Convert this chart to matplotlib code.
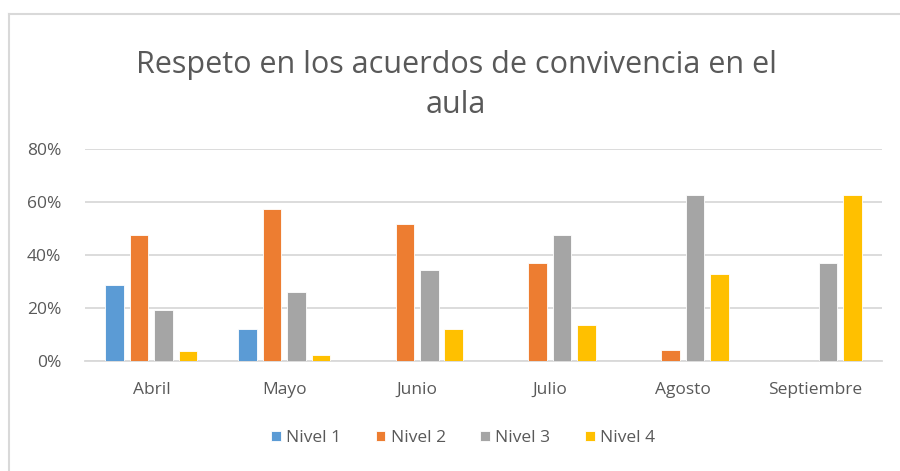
import matplotlib
matplotlib.use("Agg")
import matplotlib.pyplot as plt
from matplotlib.lines import Line2D
import numpy as np

plt.rcParams['font.family'] = ['Open Sans', 'DejaVu Sans']

categories = ["Abril", "Mayo", "Junio", "Julio", "Agosto", "Septiembre"]
series_names = ["Nivel 1", "Nivel 2", "Nivel 3", "Nivel 4"]
nivel1 = [28.5, 12.0, 0, 0, 0, 0]
nivel2 = [47.6, 57.5, 51.8, 37.0, 4.3, 0]
nivel3 = [19.2, 26.2, 34.2, 47.6, 62.5, 37.0]
nivel4 = [3.7, 2.1, 12.1, 13.5, 32.8, 62.5]
colors = ["#5B9BD5", "#ED7D31", "#A5A5A5", "#FFC000"]
yticks = [0, 20, 40, 60, 80]
ytick_labels = ["0%", "20%", "40%", "60%", "80%"]
title = "Respeto en los acuerdos de convivencia en el\naula"

fig = plt.figure(figsize=(9, 4.71), dpi=100)
ax = fig.add_axes([85/900, 1-361/471, (882-85)/900, (361-149)/471])

x = np.arange(len(categories))
slot = 0.184
bw = 0.14
for i, (vals, name, c) in enumerate(zip([nivel1, nivel2, nivel3, nivel4], series_names, colors)):
    ax.bar(x + (i - 1.5) * slot, vals, width=bw, color=c, label=name,
           edgecolor="white", linewidth=0.6, zorder=3)

ax.set_xlim(-0.5, len(categories) - 0.5)
ax.set_ylim(0, 80)
ax.set_yticks(yticks)
ax.set_yticklabels(ytick_labels)
ax.set_xticks(x)
ax.set_xticklabels(categories)
ax.grid(axis="y", color="#D9D9D9", linewidth=1.3, zorder=0)
for s in ["top", "right", "left"]:
    ax.spines[s].set_visible(False)
ax.spines["bottom"].set_color("#D9D9D9")
ax.spines["bottom"].set_linewidth(1.3)
ax.tick_params(axis="both", length=0, colors="#595959", labelsize=12.5)
ax.tick_params(axis="y", pad=17)
ax.tick_params(axis="x", pad=15)

fig.text(0.507, 1-85/471, title, ha="center", va="center", fontsize=22,
         color="#595959", linespacing=1.42)

leg = fig.legend(loc="center", bbox_to_anchor=(463/900, 1-438/471), ncol=4,
                 frameon=False, fontsize=12.5, handlelength=0.55, handleheight=0.55,
                 handletextpad=0.3, columnspacing=2.0)
for t in leg.get_texts():
    t.set_color("#595959")

fig.add_artist(Line2D([8.5/900, 1], [1-14/471, 1-14/471], color="#D9D9D9", linewidth=1.5))
fig.add_artist(Line2D([8.5/900, 8.5/900], [0, 1-14/471], color="#D9D9D9", linewidth=1.5))

fig.savefig("out.png", dpi=100)
